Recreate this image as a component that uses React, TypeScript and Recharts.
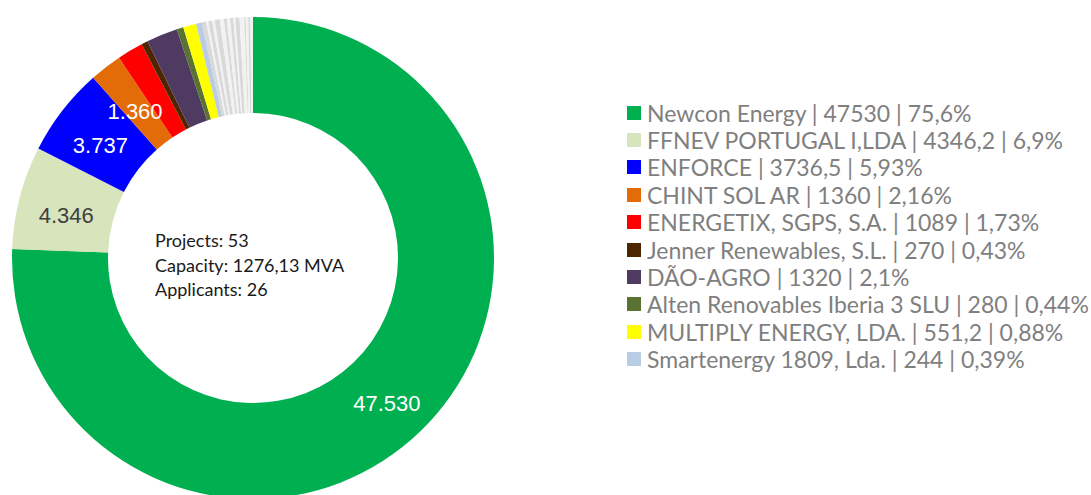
import React from 'react';
import { PieChart, Pie, Cell, Legend } from 'recharts';

// applicants shown in the legend
const companies = [
  'Newcon Energy',
  'FFNEV PORTUGAL I,LDA',
  'ENFORCE',
  'CHINT SOL AR',
  'ENERGETIX, SGPS, S.A.',
  'Jenner Renewables, S.L.',
  'DÃO-AGRO',
  'Alten Renovables Iberia 3 SLU',
  'MULTIPLY ENERGY, LDA.',
  'Smartenergy 1809, Lda.',
];
const capacities = [47530, 4346.2, 3736.5, 1360, 1089, 270, 1320, 280, 551.2, 244];
const shares = ['75,6%', '6,9%', '5,93%', '2,16%', '1,73%', '0,43%', '2,1%', '0,44%', '0,88%', '0,39%'];

// remaining applicants (grey slices, not in legend)
const otherCapacities = [180, 95, 160, 110, 210, 175, 120, 140, 130, 90, 170, 200, 60, 105, 88, 110];

const colors = [
  '#00B050', '#D8E4BC', '#0000FF', '#E36C09', '#FF0000',
  '#4D2600', '#4F3B62', '#5A7233', '#FFFF00', '#B8CCE4',
];
const greys = ['#D9D9D9', '#F2F2F2'];

const summary = ['Projects: 53', 'Capacity: 1276,13 MVA', 'Applicants: 26'];

const data = [
  ...companies.map((name, i) => ({ name, value: capacities[i] })),
  ...otherCapacities.map((v, i) => ({ name: `Other ${i + 1}`, value: v })),
];

const RAD = Math.PI / 180;

const fmtThousands = (v: number) =>
  Math.round(v).toString().replace(/\B(?=(\d{3})+(?!\d))/g, '.');

const renderLabel = (props: any) => {
  const { cx, cy, midAngle, innerRadius, outerRadius, index, value } = props;
  if (index > 3) return null;
  const r = (innerRadius + outerRadius) / 2;
  const x = cx + r * Math.cos(-midAngle * RAD);
  const y = cy + r * Math.sin(-midAngle * RAD);
  return (
    <text
      x={x}
      y={y + 6}
      textAnchor="middle"
      dominantBaseline="central"
      fill={index === 1 ? '#404040' : '#FFFFFF'}
      fontFamily="'Liberation Sans', Arial, sans-serif"
      fontSize={22}
    >
      {fmtThousands(value)}
    </text>
  );
};

const renderLegend = () => (
  <div style={{ fontFamily: 'Lato, sans-serif', fontSize: 23, color: '#7F7F7F' }}>
    {companies.map((name, i) => (
      <div key={name} style={{ display: 'flex', alignItems: 'center', height: 27.4, whiteSpace: 'nowrap' }}>
        <span style={{ width: 14, height: 14, background: colors[i], marginRight: 6, flex: 'none' }} />
        <span>{`${name} | ${String(capacities[i]).replace('.', ',')} | ${shares[i]}`}</span>
      </div>
    ))}
  </div>
);

export default function App() {
  return (
    <div style={{ position: 'absolute', left: 0, top: 0, width: 1091, height: 495, background: '#fff' }}>
      <PieChart width={1091} height={495} margin={{ top: 0, right: 0, bottom: 0, left: 0 }}>
        <Pie
          data={data}
          dataKey="value"
          nameKey="name"
          cx={253}
          cy={258}
          innerRadius={145}
          outerRadius={241}
          startAngle={90}
          endAngle={-270}
          stroke="none"
          label={renderLabel}
          labelLine={false}
          isAnimationActive={false}
        >
          {data.map((d, i) => (
            <Cell key={d.name} fill={i < colors.length ? colors[i] : greys[(i - colors.length) % 2]} />
          ))}
        </Pie>
        <Legend
          content={renderLegend}
          wrapperStyle={{ position: 'absolute', left: 627, top: 99, width: 464 }}
        />
        <text fontFamily="Lato, sans-serif" fontSize={18} fill="#1A1A1A">
          {summary.map((line, i) => (
            <tspan key={line} x={155} y={247 + i * 24.5}>
              {line}
            </tspan>
          ))}
        </text>
      </PieChart>
    </div>
  );
}
